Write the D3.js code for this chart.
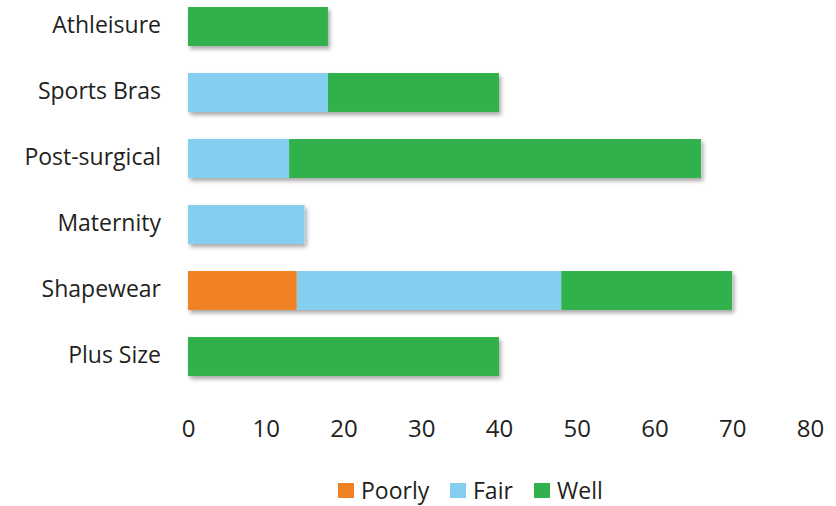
<!DOCTYPE html>
<html>
<head>
<meta charset="utf-8">
<script src="https://cdn.jsdelivr.net/npm/d3@7/dist/d3.min.js"></script>
<style>
  html, body { margin: 0; padding: 0; background: #fff; }
  svg text { font-family: "Open Sans", "Noto Sans", sans-serif; fill: #231f20; }
</style>
</head>
<body>
<svg id="chart" width="836" height="506"></svg>
<script>
// Garment categories (top to bottom) and fit ratings per category
const categories = ["Athleisure", "Sports Bras", "Post-surgical", "Maternity", "Shapewear", "Plus Size"];
const seriesNames = ["Poorly", "Fair", "Well"];
const poorly = [0, 0, 0, 0, 14, 0];
const fair   = [0, 18, 13, 15, 34, 0];
const well   = [18, 22, 53, 0, 22, 40];
const xTicks = [0, 10, 20, 30, 40, 50, 60, 70, 80];
const colors = ["#F08125", "#84CEF0", "#30B14C"];

const svg = d3.select("#chart");

const rows = categories.map((c, i) => ({ cat: c, Poorly: poorly[i], Fair: fair[i], Well: well[i] }));
const stacked = d3.stack().keys(seriesNames)(rows);

const x = d3.scaleLinear().domain([0, 80]).range([188, 810]);
const y = d3.scaleBand().domain(categories).range([-6.5, 389.5])
  .paddingInner(0.41).paddingOuter(0.205);
const color = d3.scaleOrdinal().domain(seriesNames).range(colors);

// soft drop shadow under each bar
const defs = svg.append("defs");
const f = defs.append("filter").attr("id", "shadow")
  .attr("x", "-10%").attr("y", "-20%").attr("width", "130%").attr("height", "160%");
f.append("feDropShadow").attr("dx", 2).attr("dy", 3).attr("stdDeviation", 2)
  .attr("flood-color", "#000").attr("flood-opacity", 0.35);

// shadow layer drawn from each row's total
svg.append("g").selectAll("rect")
  .data(rows.filter(r => r.Poorly + r.Fair + r.Well > 0))
  .join("rect")
  .attr("x", x(0))
  .attr("y", d => y(d.cat))
  .attr("width", d => x(d.Poorly + d.Fair + d.Well) - x(0))
  .attr("height", y.bandwidth())
  .attr("fill", "#fff")
  .attr("filter", "url(#shadow)");

// stacked segments
svg.append("g").selectAll("g")
  .data(stacked)
  .join("g")
  .attr("fill", d => color(d.key))
  .selectAll("rect")
  .data(d => d.filter(s => s[1] - s[0] > 0))
  .join("rect")
  .attr("x", d => x(d[0]))
  .attr("y", d => y(d.data.cat))
  .attr("width", d => x(d[1]) - x(d[0]))
  .attr("height", y.bandwidth());

// category axis (labels only)
const yAxis = svg.append("g")
  .attr("transform", `translate(${x(0) - 27},0)`)
  .call(d3.axisLeft(y).tickSize(0).tickPadding(0));
yAxis.select(".domain").remove();
yAxis.selectAll("text").attr("font-size", 23).attr("dy", "0.3em")
  .style("font-family", "'Open Sans', sans-serif").attr("fill", "#231f20");

// value axis (labels only)
const xAxis = svg.append("g")
  .attr("transform", `translate(0,437)`)
  .call(d3.axisBottom(x).tickValues(xTicks).tickSize(0).tickPadding(0));
xAxis.select(".domain").remove();
xAxis.selectAll("text").attr("font-size", 24).attr("y", 0).attr("dy", 0)
  .style("font-family", "'Open Sans', sans-serif").attr("fill", "#231f20");

// legend
const legendX = [338, 450, 534];
const lg = svg.append("g").selectAll("g")
  .data(seriesNames)
  .join("g")
  .attr("transform", (d, i) => `translate(${legendX[i]},483)`);
lg.append("rect").attr("width", 16).attr("height", 15).attr("fill", d => color(d));
lg.append("text").attr("x", 23).attr("y", 16)
  .attr("font-size", 23).text(d => d);
</script>
</body>
</html>
